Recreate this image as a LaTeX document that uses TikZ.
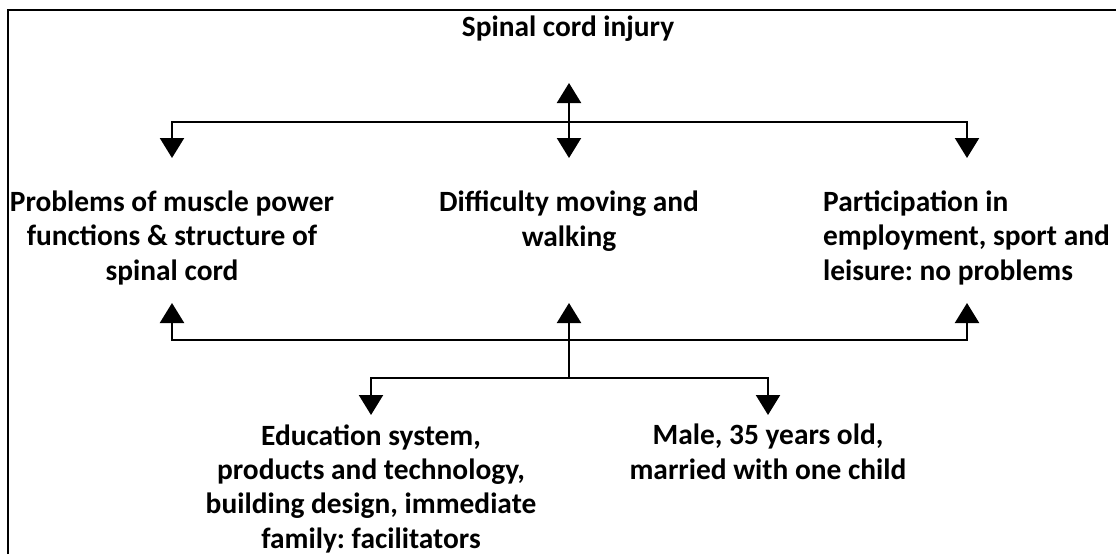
\documentclass[tikz,border=0pt]{standalone}
\usepackage{fontspec}
\setmainfont{Carlito}
\usetikzlibrary{arrows.meta}
\frenchspacing
\begin{document}
\begin{tikzpicture}[x=1pt,y=-1pt,
  txt/.style={font=\fontsize{29.4}{34.3}\selectfont\bfseries, align=center, inner sep=0pt, anchor=base},
  link/.style={line width=2.2pt, line join=miter},
  arr/.style={link, -{Triangle[width=24pt,length=20pt]}},
  frame/.style={line width=2.6pt}]
\useasboundingbox (0,0) rectangle (1116,554);
\draw[frame] (8,554) -- (8,10) -- (1116,10);

% text blocks (anchored at the baseline of their last line)
\node[txt] (sci) at (568,36) {Spinal cord injury};
\node[txt] (body) at (172,280) {Problems of muscle power\\functions \& structure of\\spinal cord};
\node[txt] (act) at (569,246) {Difficulty moving and\\walking};
\node[txt, align=left, anchor=base west] (part) at (823,280) {Participation in\\employment, sport and\\leisure: no problems};
\node[txt] (env) at (371,548) {Education system,\\products and technology,\\building design, immediate\\family: facilitators};
\node[txt] (pers) at (768,479) {Male, 35 years old,\\married with one child};

% upper connector
\coordinate (j1) at (569,122);
\coordinate (tSci) at (569,83);
\coordinate (aBody) at (172,158);
\coordinate (aAct) at (569,158);
\coordinate (aPart) at (967,158);
\draw[arr] (j1) -- (tSci);
\draw[arr] (j1) -- (aAct);
\draw[arr] (j1) -| (aBody);
\draw[arr] (j1) -| (aPart);

% lower connector
\coordinate (j2) at (569,340);
\coordinate (j3) at (569,378);
\coordinate (uBody) at (172,303);
\coordinate (uAct) at (569,303);
\coordinate (uPart) at (967,303);
\coordinate (dEnv) at (371,415);
\coordinate (dPers) at (768,415);
\draw[arr] (j3) -- (uAct);
\draw[arr] (j2) -| (uBody);
\draw[arr] (j2) -| (uPart);
\draw[arr] (j3) -| (dEnv);
\draw[arr] (j3) -| (dPers);
\end{tikzpicture}
\end{document}
